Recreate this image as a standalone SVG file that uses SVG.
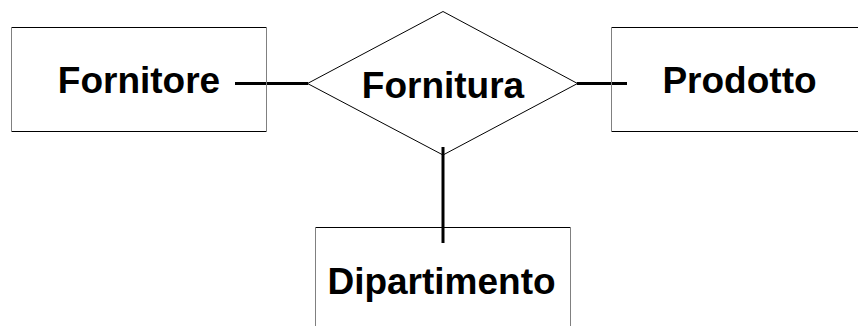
<svg xmlns="http://www.w3.org/2000/svg" width="858" height="326" viewBox="0 0 858 326">
<style>
.bg{fill:#ffffff}
.h{stroke:#000;stroke-width:1;fill:none}
.v{stroke:#808080;stroke-width:1;fill:none}
.dia{stroke:#000;stroke-width:1;fill:none}
.conn{stroke:#000;stroke-width:3;fill:none}
.lbl{font-family:"Liberation Sans",Arial,sans-serif;font-weight:bold;font-size:37px;fill:#000;text-anchor:middle}
</style>
<rect class="bg" x="0" y="0" width="858" height="326"/>
<g id="connectors">
<line class="conn" x1="235" y1="83.5" x2="308" y2="83.5"/>
<line class="conn" x1="577" y1="83.5" x2="627" y2="83.5"/>
<line class="conn" x1="443" y1="147" x2="443" y2="243"/>
</g>
<g id="fornitore">
<path class="h" d="M11 27.5H267M11 131.5H267"/>
<path class="v" d="M11.5 27V132M266.5 27V132"/>
<text class="lbl" x="139" y="93">Fornitore</text>
</g>
<g id="fornitura">
<polygon class="dia" points="443,11.5 577.5,83.5 443,155 307.5,83.5"/>
<text class="lbl" x="443" y="98">Fornitura</text>
</g>
<g id="prodotto">
<path class="h" d="M611 27.5H858M611 131.5H858"/>
<path class="v" d="M611.5 27V132"/>
<text class="lbl" x="739.5" y="93">Prodotto</text>
</g>
<g id="dipartimento">
<path class="h" d="M315 227.5H571"/>
<path class="v" d="M315.5 227V326M570.5 227V326"/>
<text class="lbl" x="441.5" y="294">Dipartimento</text>
</g>
</svg>
